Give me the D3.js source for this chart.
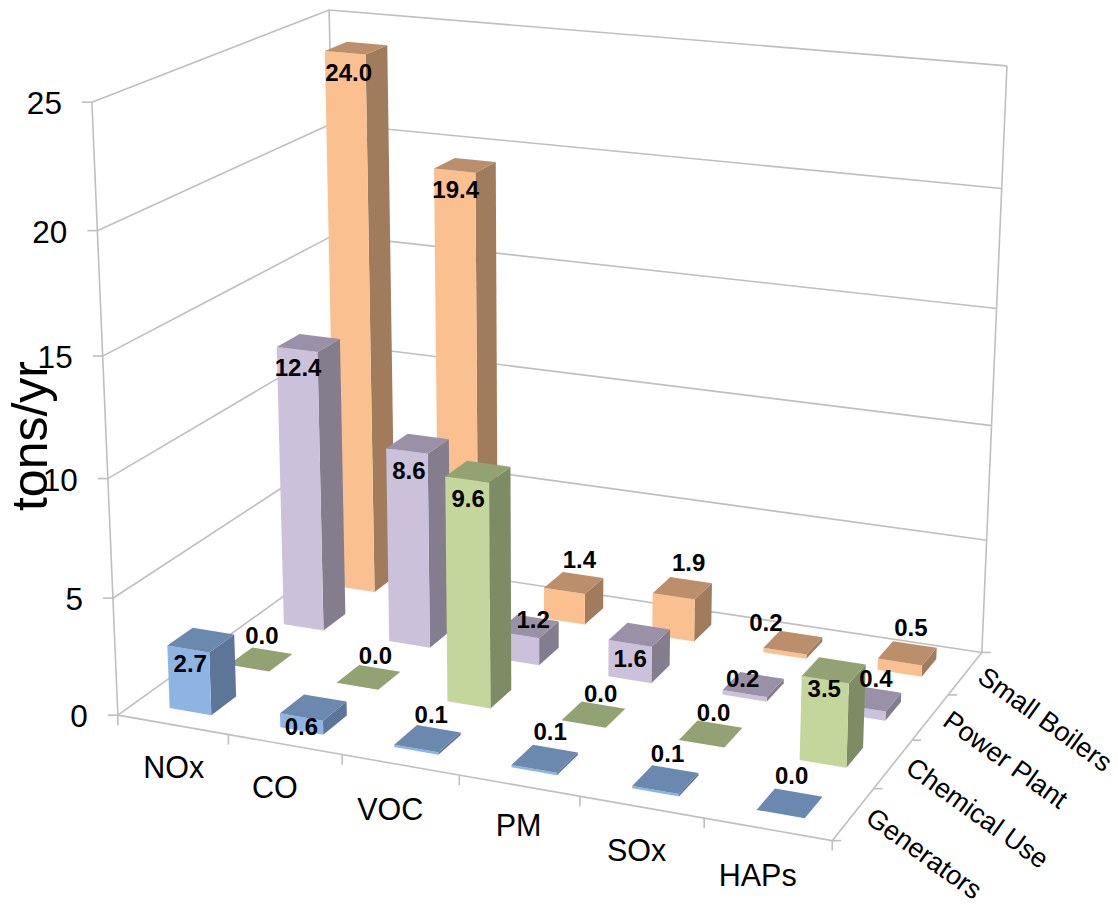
<!DOCTYPE html>
<html>
<head>
<meta charset="utf-8">
<script src="https://cdn.jsdelivr.net/npm/d3@7"></script>
<style>
  html, body { margin: 0; background: #fff; }
  text { font-family: "Liberation Sans", Arial, sans-serif; fill: #000; }
</style>
</head>
<body>
<svg id="chart" width="1118" height="905"></svg>
<script>
// Emissions by pollutant and source
const categories = ["NOx", "CO", "VOC", "PM", "SOx", "HAPs"];
const seriesNames = ["Generators", "Chemical Use", "Power Plant", "Small Boilers"];
const generators = [2.7, 0.6, 0.1, 0.1, 0.1, 0.0];
const chemicalUse = [0.0, 0.0, 9.6, 0.0, 0.0, 3.5];
const powerPlant = [12.4, 8.6, 1.2, 1.6, 0.2, 0.4];
const smallBoilers = [24.0, 19.4, 1.4, 1.9, 0.2, 0.5];
const valueTicks = [0, 5, 10, 15, 20, 25];

const seriesValues = [generators, chemicalUse, powerPlant, smallBoilers];

// Face colours per series: front, side, top
const faceColors = [
  { front: "#8eb4e3", side: "#5c7599", top: "#6b88ae" },
  { front: "#c3d69b", side: "#7e8c65", top: "#93a273" },
  { front: "#ccc1da", side: "#847d8e", top: "#9a90a8" },
  { front: "#fac090", side: "#a07c5c", top: "#bb8f6c" }
];

// Nudges of each value label away from the top front edge of its bar [dx, dy]
const labelNudges = [
  [[2, 15], [0, 10], [15, -34], [16, -37], [12, -36], [11, -39]],
  [[13, -33], [18, -31], [1, 19], [17, -30], [12, -31], [-1, 9]],
  [[1, 18], [2, 20], [15, -15], [0, 15], [-2, -15], [13, -29]],
  [[3.5, 20], [1, 19], [15, -31], [15, -34], [-19, -29], [11, -34]]
];

// Nudges of the pollutant names below the front edge [dx, dy]
const categoryNudges = [[1, 42.5], [-10, 43], [-10, 44], [-0.5, 39.5], [-5, 43], [-10, 46]];

const barWidthShare = 0.38;
const barDepthShare = 0.42;

// Logical scales: pollutant along the front, source into the depth, value upward
const xBand = d3.scaleBand().domain(categories).range([0, categories.length]);
const yBand = d3.scaleBand().domain(seriesNames).range([0, seriesNames.length]);
const zScale = d3.scaleLinear().domain([0, 25]).range([0, 25]);

// Perspective camera calibration: box corners in logical space and where they land on the page
const nx = categories.length, ny = seriesNames.length, nz = 25;
const cameraAnchors = [
  [0, 0, 0, 118, 715],
  [nx, 0, 0, 832, 841],
  [nx, ny, 0, 982, 652],
  [0, ny, 0, 340, 556],
  [0, 0, nz, 92, 102],
  [0, ny, nz, 329, 10],
  [nx, ny, nz, 1007, 66]
];

function solveLinear(A, b) {
  const n = b.length;
  const m = A.map((row, i) => [...row, b[i]]);
  for (let c = 0; c < n; c++) {
    let p = c;
    for (let r = c + 1; r < n; r++) if (Math.abs(m[r][c]) > Math.abs(m[p][c])) p = r;
    [m[c], m[p]] = [m[p], m[c]];
    for (let r = 0; r < n; r++) {
      if (r === c) continue;
      const f = m[r][c] / m[c][c];
      for (let k = c; k <= n; k++) m[r][k] -= f * m[c][k];
    }
  }
  return m.map((row, i) => row[n] / row[i]);
}

function fitCamera(anchors) {
  const rows = [], rhs = [];
  anchors.forEach(([x, y, z, u, v]) => {
    rows.push([x, y, z, 1, 0, 0, 0, 0, -u * x, -u * y, -u * z]); rhs.push(u);
    rows.push([0, 0, 0, 0, x, y, z, 1, -v * x, -v * y, -v * z]); rhs.push(v);
  });
  const N = d3.range(11).map(i => d3.range(11).map(j => d3.sum(rows, r => r[i] * r[j])));
  const t = d3.range(11).map(i => d3.sum(rows, (r, k) => r[i] * rhs[k]));
  return solveLinear(N, t);
}

const cam = fitCamera(cameraAnchors);
function project(x, y, z) {
  const w = cam[8] * x + cam[9] * y + cam[10] * z + 1;
  return [
    (cam[0] * x + cam[1] * y + cam[2] * z + cam[3]) / w,
    (cam[4] * x + cam[5] * y + cam[6] * z + cam[7]) / w
  ];
}

const svg = d3.select("#chart");
const gridColor = "#bfbfbf";
const polyPath = pts => "M" + pts.map(p => p.join(",")).join("L") + "Z";
const segPath = (a, b) => "M" + a.join(",") + "L" + b.join(",");

// Walls, floor edges and grid lines
const grid = svg.append("g").attr("fill", "none").attr("stroke", gridColor).attr("stroke-width", 1.6);
const addSeg = (a, b) => grid.append("path").attr("d", segPath(a, b));

valueTicks.forEach(v => {
  const z = zScale(v);
  const left = project(0, 0, z), back = project(0, ny, z), right = project(nx, ny, z);
  addSeg(left, back);
  addSeg(back, right);
  addSeg(left, [left[0] - 10, left[1]]);
});
addSeg(project(0, 0, 0), project(0, 0, nz));
addSeg(project(0, ny, 0), project(0, ny, nz));
addSeg(project(nx, ny, 0), project(nx, ny, nz));
addSeg(project(0, 0, 0), project(nx, 0, 0));
addSeg(project(nx, 0, 0), project(nx, ny, 0));

d3.range(nx + 1).forEach(i => {
  const p = project(i, 0, 0);
  addSeg(p, [p[0], p[1] + 10]);
});
d3.range(ny + 1).forEach(j => {
  const p = project(nx, j, 0);
  addSeg(p, [p[0] + 9, p[1]]);
});

// Bars, painted from the back row forward and left to right
const bars = svg.append("g");
const labelData = [];
d3.range(seriesNames.length - 1, -1, -1).forEach(s => {
  const name = seriesNames[s];
  categories.forEach((cat, c) => {
    const value = seriesValues[s][c];
    const x0 = xBand(cat) + xBand.bandwidth() * (1 - barWidthShare) / 2;
    const x1 = x0 + xBand.bandwidth() * barWidthShare;
    const y0 = yBand(name) + yBand.bandwidth() * (1 - barDepthShare) / 2;
    const y1 = y0 + yBand.bandwidth() * barDepthShare;
    const z = zScale(value);
    const colors = faceColors[s];
    if (value > 0) {
      bars.append("path").attr("fill", colors.side)
        .attr("d", polyPath([project(x1, y0, 0), project(x1, y1, 0), project(x1, y1, z), project(x1, y0, z)]));
      bars.append("path").attr("fill", colors.front)
        .attr("d", polyPath([project(x0, y0, 0), project(x1, y0, 0), project(x1, y0, z), project(x0, y0, z)]));
    }
    bars.append("path").attr("fill", colors.top)
      .attr("d", polyPath([project(x0, y0, z), project(x1, y0, z), project(x1, y1, z), project(x0, y1, z)]));
    const anchor = project((x0 + x1) / 2, y0, z);
    const nudge = labelNudges[s][c];
    labelData.push({ value, x: anchor[0] + nudge[0], y: anchor[1] + nudge[1] });
  });
});

// Value labels sit above every bar
svg.append("g").selectAll("text").data(labelData).join("text")
  .attr("x", d => d.x).attr("y", d => d.y)
  .attr("text-anchor", "middle").attr("dominant-baseline", "central")
  .attr("font-size", 24).attr("font-weight", "bold")
  .text(d => d3.format(".1f")(d.value));

// Value axis numbers
svg.append("g").selectAll("text").data(valueTicks).join("text")
  .attr("x", d => project(0, 0, zScale(d))[0] - 30)
  .attr("y", d => project(0, 0, zScale(d))[1] + 1)
  .attr("text-anchor", "end").attr("dominant-baseline", "central")
  .attr("font-size", 31.5)
  .text(d => d);

// Pollutant names below the front edge
svg.append("g").selectAll("text").data(categories).join("text")
  .attr("x", (d, i) => project(xBand(d) + xBand.bandwidth() / 2, 0, 0)[0] + categoryNudges[i][0])
  .attr("y", (d, i) => project(xBand(d) + xBand.bandwidth() / 2, 0, 0)[1] + categoryNudges[i][1])
  .attr("text-anchor", "middle").attr("dominant-baseline", "central")
  .attr("font-size", 30.5)
  .text(d => d);

// Source names slanted along the right edge
svg.append("g").selectAll("text").data(seriesNames).join("text")
  .attr("transform", d => {
    const p = project(nx, yBand(d) + yBand.bandwidth() / 2, 0);
    return `translate(${p[0] + 16},${p[1]}) rotate(35.8)`;
  })
  .attr("font-size", 27)
  .attr("dominant-baseline", "central")
  .text(d => d);

// Value axis title
svg.append("text")
  .attr("transform", "translate(47,436) rotate(-90)")
  .attr("text-anchor", "middle")
  .attr("font-size", 50)
  .text("tons/yr");
</script>
</body>
</html>
